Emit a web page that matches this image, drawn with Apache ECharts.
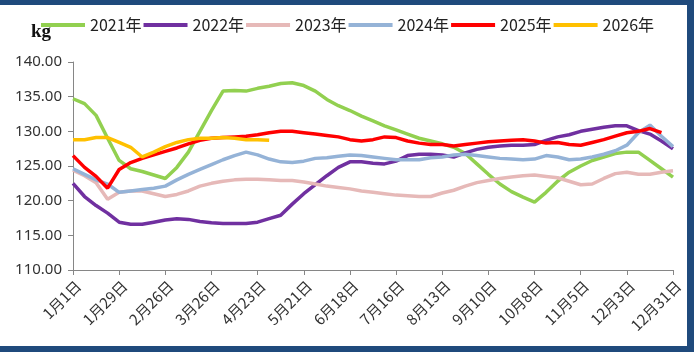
<!DOCTYPE html>
<html>
<head>
<meta charset="utf-8">
<script src="https://cdn.jsdelivr.net/npm/echarts@6/dist/echarts.min.js"></script>
<style>
html,body{margin:0;padding:0;background:#fff;}
#main{width:694px;height:352px;}
</style>
</head>
<body>
<div id="main"></div>
<script>
// 每周数据，1月1日起
var weeks = ['1月1日','1月8日','1月15日','1月22日','1月29日','2月5日','2月12日','2月19日','2月26日',
	'3月5日','3月12日','3月19日','3月26日','4月2日','4月9日','4月16日','4月23日','4月30日',
	'5月7日','5月14日','5月21日','5月28日','6月4日','6月11日','6月18日','6月25日',
	'7月2日','7月9日','7月16日','7月23日','7月30日','8月6日','8月13日','8月20日','8月27日',
	'9月3日','9月10日','9月17日','9月24日','10月1日','10月8日','10月15日','10月22日','10月29日',
	'11月5日','11月12日','11月19日','11月26日','12月3日','12月10日','12月17日','12月24日','12月31日'];
var names = ['2021年','2022年','2023年','2024年','2025年','2026年'];
var colors = ['#92d050','#7030a0','#e6b9b8','#95b3d7','#ff0000','#ffc000'];

var d2021 = [134.7,134.0,132.3,129.0,125.8,124.6,124.2,123.7,123.2,124.8,127.0,130.0,133.0,135.8,135.9,135.8,136.2,136.5,136.9,137.0,
	136.6,135.8,134.6,133.7,133.0,132.2,131.5,130.8,130.2,129.6,129.0,128.6,128.2,127.7,126.8,125.3,123.8,122.4,121.3,120.5,
	119.8,121.2,122.8,124.1,125.0,125.8,126.3,126.8,127.0,127.0,125.8,124.6,123.4];
var d2022 = [122.5,120.6,119.3,118.2,116.9,116.6,116.6,116.9,117.2,117.4,117.3,117.0,116.8,116.7,116.7,116.7,116.9,117.4,117.9,119.5,
	121.0,122.3,123.6,124.8,125.6,125.6,125.4,125.3,125.7,126.5,126.7,126.7,126.6,126.3,126.9,127.4,127.7,127.9,128.0,128.0,
	128.1,128.7,129.2,129.5,130.0,130.3,130.6,130.8,130.8,130.1,129.6,128.6,127.5];
var d2023 = [124.4,123.6,122.6,120.2,121.2,121.4,121.4,121.0,120.6,120.9,121.4,122.1,122.5,122.8,123.0,123.1,123.1,123.0,122.9,122.9,
	122.7,122.4,122.1,121.9,121.7,121.4,121.2,121.0,120.8,120.7,120.6,120.6,121.1,121.5,122.1,122.6,122.9,123.2,123.4,123.6,
	123.7,123.5,123.3,122.8,122.3,122.4,123.2,123.9,124.1,123.8,123.8,124.1,124.3];
var d2024 = [124.6,123.8,123.0,122.4,121.2,121.4,121.6,121.8,122.1,123.0,123.8,124.5,125.2,125.9,126.5,127.0,126.6,126.0,125.6,125.5,
	125.7,126.1,126.2,126.4,126.6,126.5,126.3,126.1,125.9,125.9,125.9,126.2,126.3,126.6,126.7,126.5,126.3,126.1,126.0,125.9,
	126.0,126.5,126.3,125.9,126.0,126.3,126.7,127.2,128.0,129.8,130.9,129.3,127.8];
var d2025 = [126.5,124.8,123.5,121.8,124.5,125.5,126.1,126.6,127.1,127.6,128.2,128.7,129.0,129.1,129.2,129.3,129.5,129.8,130.0,130.0,
	129.8,129.6,129.4,129.2,128.8,128.6,128.8,129.2,129.1,128.6,128.3,128.1,128.1,127.9,128.1,128.3,128.5,128.6,128.7,128.8,
	128.6,128.3,128.4,128.1,128.0,128.4,128.8,129.3,129.8,130.0,130.4,129.8];
var d2026 = [128.8,128.8,129.1,129.1,128.4,127.7,126.3,127.0,127.8,128.4,128.8,129.0,129.0,129.1,129.0,128.8,128.8,128.7];
var allData = [d2021, d2022, d2023, d2024, d2025, d2026];

var chart = echarts.init(document.getElementById('main'));
var series = [];
for (var i = 0; i < names.length; i++) {
	series.push({
		name: names[i],
		type: 'line',
		data: allData[i],
		showSymbol: false,
		symbol: 'none',
		smooth: false,
		lineStyle: { width: 3.5, color: colors[i] },
		itemStyle: { color: colors[i] },
		z: 2 + i
	});
}
var option = {
	animation: false,
	backgroundColor: '#fff',
	legend: {
		data: names,
		left: 36,
		top: 12,
		icon: 'rect',
		itemWidth: 44,
		itemHeight: 4,
		itemGap: 2,
		textStyle: { fontFamily: 'Noto Sans CJK SC', fontSize: 16, color: '#222' }
	},
	grid: { left: 73, right: 21, top: 62, bottom: 82 },
	xAxis: {
		type: 'category',
		data: weeks,
		boundaryGap: false,
		axisLine: { lineStyle: { color: '#868686', width: 1 } },
		axisTick: { interval: 3, length: 5, lineStyle: { color: '#868686' } },
		axisLabel: {
			interval: 3,
			rotate: 45,
			margin: 8,
			verticalAlign: 'top',
			fontFamily: 'Noto Sans CJK SC',
			fontSize: 15,
			color: '#333'
		},
		splitLine: { show: false }
	},
	yAxis: {
		type: 'value',
		min: 110,
		max: 140,
		interval: 5,
		axisLine: { show: true, lineStyle: { color: '#868686', width: 1 } },
		axisTick: { show: true, length: 5, lineStyle: { color: '#868686' } },
		axisLabel: {
			margin: 11,
			fontFamily: 'Noto Sans',
			fontSize: 15,
			color: '#333',
			formatter: function (v) { return v.toFixed(2); }
		},
		splitLine: { show: false }
	},
	graphic: [
		{ type: 'text', left: 31, top: 23, style: { text: 'kg', font: 'bold 19px "Liberation Serif"', fill: '#111' } },
		{ type: 'rect', shape: { x: 0, y: 0, width: 694, height: 5 }, style: { fill: '#1f4a7c' } },
		{ type: 'rect', shape: { x: 687, y: 0, width: 7, height: 352 }, style: { fill: '#1f4a7c' } },
		{ type: 'rect', shape: { x: 0, y: 346, width: 694, height: 6 }, style: { fill: '#1f4a7c' } }
	],
	series: series
};
chart.setOption(option);
</script>
</body>
</html>
